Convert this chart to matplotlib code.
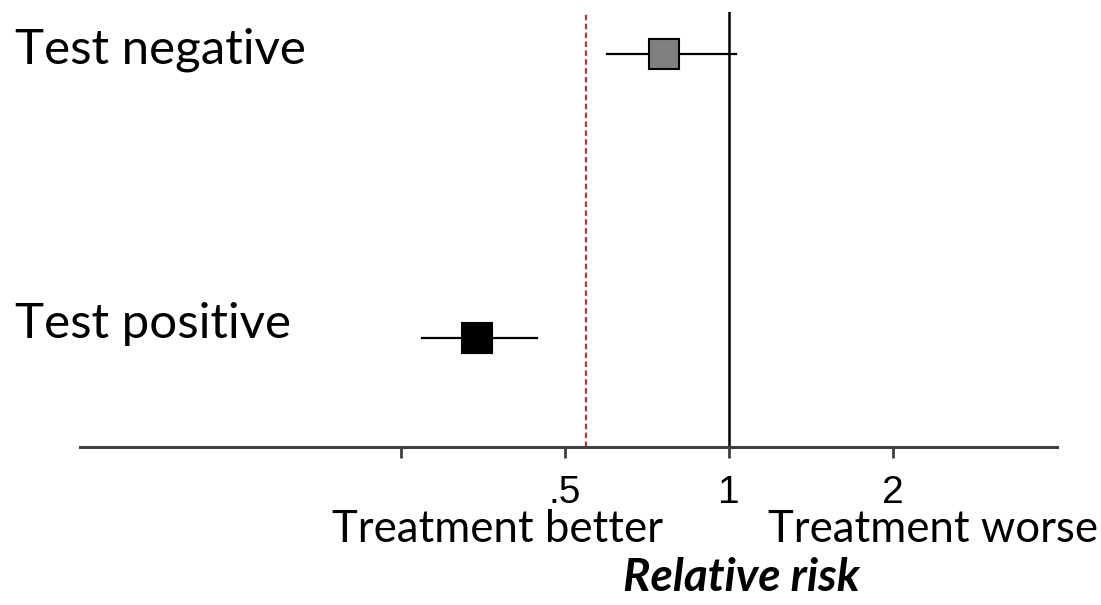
import matplotlib.pyplot as plt

# Data
groups = ['Test negative', 'Test positive']
rr = [0.76, 0.345]
ci_low = [0.597, 0.273]
ci_high = [1.03, 0.444]
box_colors = ['#808080', '#000000']
ypos = [2, 1]
ref_line = 0.546
ticks = [0.25, 0.5, 1, 2]
tick_labels = ['', '.5', '1', '2']

W, H = 1101, 605
fig = plt.figure(figsize=(W / 100, H / 100), dpi=100)


def fx(x):
    return x / W


def fy(y):
    return 1 - y / H


# axes placed so the log axis runs from ~0.065 to 4
ax = fig.add_axes([fx(80), fy(447), fx(1057) - fx(80), fy(12) - fy(447)])
ax.set_xscale('log')
ax.set_xlim(0.0645, 4.0)
ax.set_ylim(0.616, 2.148)

for y, m, lo, hi, c in zip(ypos, rr, ci_low, ci_high, box_colors):
    ax.plot([lo, hi], [y, y], color='black', lw=1.6, zorder=2)
    ax.plot(m, y, marker='s', ms=21, mfc=c, mec='black', mew=1.5, zorder=3)

ax.axvline(1, color='black', lw=1.8, zorder=1)
ax.axvline(ref_line, color='#b03a3a', lw=1.6, ls=(0, (2.5, 1.5)), zorder=1)

for s in ['top', 'left', 'right']:
    ax.spines[s].set_visible(False)
ax.spines['bottom'].set_color('#404040')
ax.spines['bottom'].set_linewidth(2.2)
ax.set_yticks([])
ax.set_xticks(ticks)
ax.set_xticklabels(tick_labels, fontsize=28, family='Liberation Sans')
ax.xaxis.set_minor_locator(plt.NullLocator())
ax.tick_params(axis='x', length=8, width=2, color='#404040', pad=12)

for g, y in zip(groups, [50, 324]):
    fig.text(fx(15), fy(y), g, fontsize=35.5, family='Lato', ha='left', va='center')

fig.text(fx(498), fy(530), 'Treatment better', fontsize=31.5, family='Lato', ha='center', va='center')
fig.text(fx(933), fy(530), 'Treatment worse', fontsize=31.5, family='Lato', ha='center', va='center')
fig.text(fx(741), fy(578), 'Relative risk', fontsize=33, family='Lato',
         fontweight='bold', fontstyle='italic', ha='center', va='center')

fig.savefig('out.png', dpi=100)
